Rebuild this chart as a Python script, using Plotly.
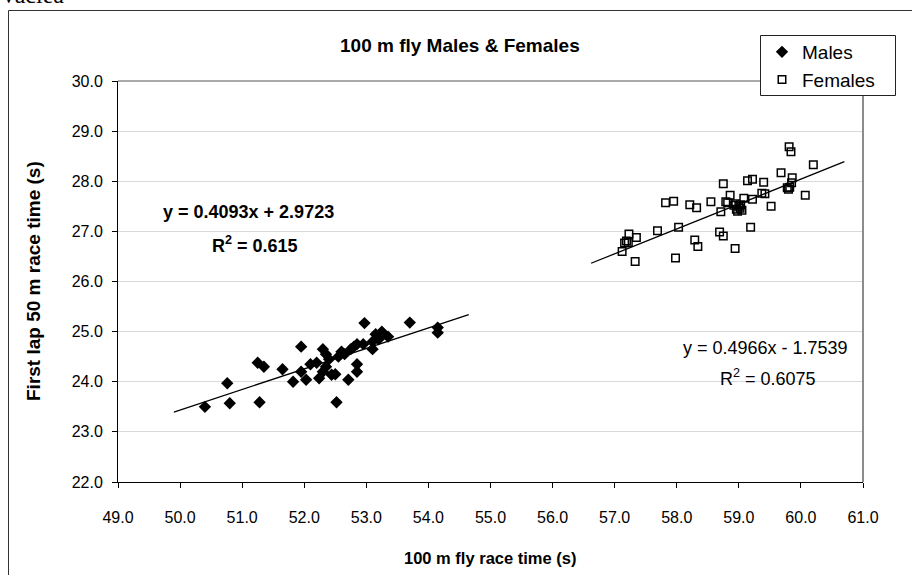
import plotly.graph_objects as go

# 100 m butterfly: total race time vs first 50 m lap time (s)
males_x = [50.40, 50.76, 50.80, 51.25, 51.28, 51.35, 51.65, 51.82, 51.95, 51.95,
           52.03, 52.10, 52.20, 52.24, 52.30, 52.30, 52.35, 52.35, 52.40, 52.44,
           52.50, 52.55, 52.52, 52.60, 52.65, 52.71, 52.75, 52.80, 52.85, 52.85,
           52.85, 52.95, 52.97, 53.10, 53.10, 53.15, 53.20, 53.25, 53.35, 53.70,
           54.15, 54.15]
males_y = [23.50, 23.97, 23.57, 24.38, 23.59, 24.30, 24.25, 24.00, 24.70, 24.20,
           24.04, 24.35, 24.38, 24.07, 24.20, 24.65, 24.55, 24.30, 24.45, 24.14,
           24.15, 24.50, 23.59, 24.60, 24.55, 24.04, 24.65, 24.70, 24.75, 24.35,
           24.20, 24.75, 25.17, 24.65, 24.80, 24.95, 24.85, 25.00, 24.90, 25.18,
           25.08, 24.98]

females_x = [59.81, 59.84, 60.20, 59.68, 59.86, 59.85, 59.78, 59.80, 59.82, 60.07,
             59.40, 59.22, 59.14, 58.75, 58.86, 59.37, 59.42, 59.08, 59.22, 59.52,
             58.79, 58.82, 58.55, 58.21, 58.32, 57.82, 57.95, 58.71, 58.92, 58.96,
             59.00, 59.05, 58.95, 59.03, 58.98, 59.02, 59.19, 58.03, 57.69, 58.69,
             58.75, 58.29, 58.34, 58.94, 57.98, 57.33, 57.23, 57.19, 57.35, 57.16,
             57.22, 57.12]
females_y = [28.69, 28.59, 28.33, 28.17, 28.07, 27.97, 27.87, 27.84, 27.88, 27.72,
             27.98, 28.04, 28.01, 27.95, 27.72, 27.76, 27.75, 27.66, 27.64, 27.50,
             27.59, 27.57, 27.59, 27.53, 27.47, 27.57, 27.60, 27.39, 27.52, 27.44,
             27.50, 27.42, 27.55, 27.53, 27.40, 27.46, 27.08, 27.08, 27.01, 26.99,
             26.91, 26.83, 26.70, 26.66, 26.47, 26.40, 26.95, 26.81, 26.88, 26.77,
             26.78, 26.60]

# Linear trendlines (slope, intercept, R^2) as reported on the chart
males_fit = (0.4093, 2.9723, 0.615)
females_fit = (0.4966, -1.7539, 0.6075)
trend_extend = 0.5  # forward/backward forecast of each trendline

x_ticks = [49.0, 50.0, 51.0, 52.0, 53.0, 54.0, 55.0, 56.0, 57.0, 58.0, 59.0, 60.0, 61.0]
y_ticks = [22.0, 23.0, 24.0, 25.0, 26.0, 27.0, 28.0, 29.0, 30.0]

W, H = 912, 575
L, R, T, B = 118, 863, 81, 482  # plot area in pixels


def px(x):
    return (x - L) / (R - L)


def py(y):
    return (B - y) / (B - T)


FONT = "Liberation Sans, Arial, sans-serif"


def trend(xs, fit):
    lo, hi = min(xs) - trend_extend, max(xs) + trend_extend
    return [lo, hi], [fit[0] * lo + fit[1], fit[0] * hi + fit[1]]


def label(text, x, y, size, **kw):
    d = dict(text=text, x=px(x), y=py(y), xref="paper", yref="paper",
             xanchor="center", yanchor="middle", showarrow=False,
             font=dict(family=kw.pop("family", FONT), size=size, color="black"))
    d.update(kw)
    return d


fig = go.Figure()

mx, my = trend(males_x, males_fit)
fx, fy = trend(females_x, females_fit)
fig.add_trace(go.Scatter(x=mx, y=my, mode="lines", line=dict(color="black", width=1.3),
                         showlegend=False, hoverinfo="skip"))
fig.add_trace(go.Scatter(x=fx, y=fy, mode="lines", line=dict(color="black", width=1.3),
                         showlegend=False, hoverinfo="skip"))

fig.add_trace(go.Scatter(x=males_x, y=males_y, mode="markers", name="Males",
                         marker=dict(symbol="diamond", size=9.5, color="black",
                                     line=dict(width=0))))
fig.add_trace(go.Scatter(x=females_x, y=females_y, mode="markers", name="Females",
                         marker=dict(symbol="square-open", size=7.5, color="black",
                                     line=dict(width=1.5, color="black"))))

axis_common = dict(showline=True, linecolor="black", linewidth=1, ticks="outside",
                   ticklen=5, tickcolor="black", tickwidth=1, zeroline=False,
                   tickfont=dict(family=FONT, size=16, color="black"),
                   tickformat=".1f")

fig.update_xaxes(range=[49, 61], tickvals=x_ticks, showgrid=False,
                 ticklabelstandoff=16, **axis_common)
fig.update_yaxes(range=[22, 30], tickvals=y_ticks, showgrid=True,
                 gridcolor="#d9d9d9", gridwidth=1, ticklabelstandoff=6, **axis_common)

shapes = [
    # chart frame
    dict(type="rect", xref="paper", yref="paper", x0=px(8.5), x1=px(930),
         y0=py(600), y1=py(10.5), line=dict(color="#333333", width=1), layer="below"),
    # plot area border (top and right)
    dict(type="line", xref="paper", yref="paper", x0=0, x1=1, y0=1, y1=1,
         line=dict(color="#8c8c8c", width=1.5)),
    dict(type="line", xref="paper", yref="paper", x0=1, x1=1, y0=0, y1=1,
         line=dict(color="#8c8c8c", width=2)),
    # legend box
    dict(type="rect", xref="paper", yref="paper", x0=px(760.5), x1=px(895.5),
         y0=py(95.5), y1=py(35.5), fillcolor="white",
         line=dict(color="#222222", width=1)),
]

annotations = [
    label("Vaclea", -2, 10, 24, xanchor="left", yanchor="bottom",
          family="Liberation Serif, Times New Roman, serif"),
    label("<b>100 m fly Males &amp; Females</b>", 460, 45, 19),
    label("<b>First lap 50 m race time (s)</b>", 33, 281, 19, textangle=-90),
    label("<b>100 m fly race time (s)</b>", 490, 558, 16.5),
    label("<b>y = %.4fx + %.4f</b>" % (males_fit[0], males_fit[1]), 248, 212, 18),
    label("<b>R<sup>2</sup> = %s</b>" % males_fit[2], 255, 245, 18),
    label("y = %.4fx - %.4f" % (females_fit[0], abs(females_fit[1])), 765, 348, 18),
    label("R<sup>2</sup> = %s" % females_fit[2], 768, 377, 18),
]

fig.update_layout(
    width=W, height=H, autosize=False,
    margin=dict(l=L, r=W - R, t=T, b=H - B, pad=0),
    paper_bgcolor="white", plot_bgcolor="white",
    shapes=shapes, annotations=annotations,
    showlegend=True,
    legend=dict(x=px(762), y=py(33), xanchor="left", yanchor="top",
                bgcolor="rgba(0,0,0,0)", borderwidth=0,
                font=dict(family=FONT, size=19, color="black"),
                itemwidth=30, tracegroupgap=0),
)

fig.write_html("out.html")
